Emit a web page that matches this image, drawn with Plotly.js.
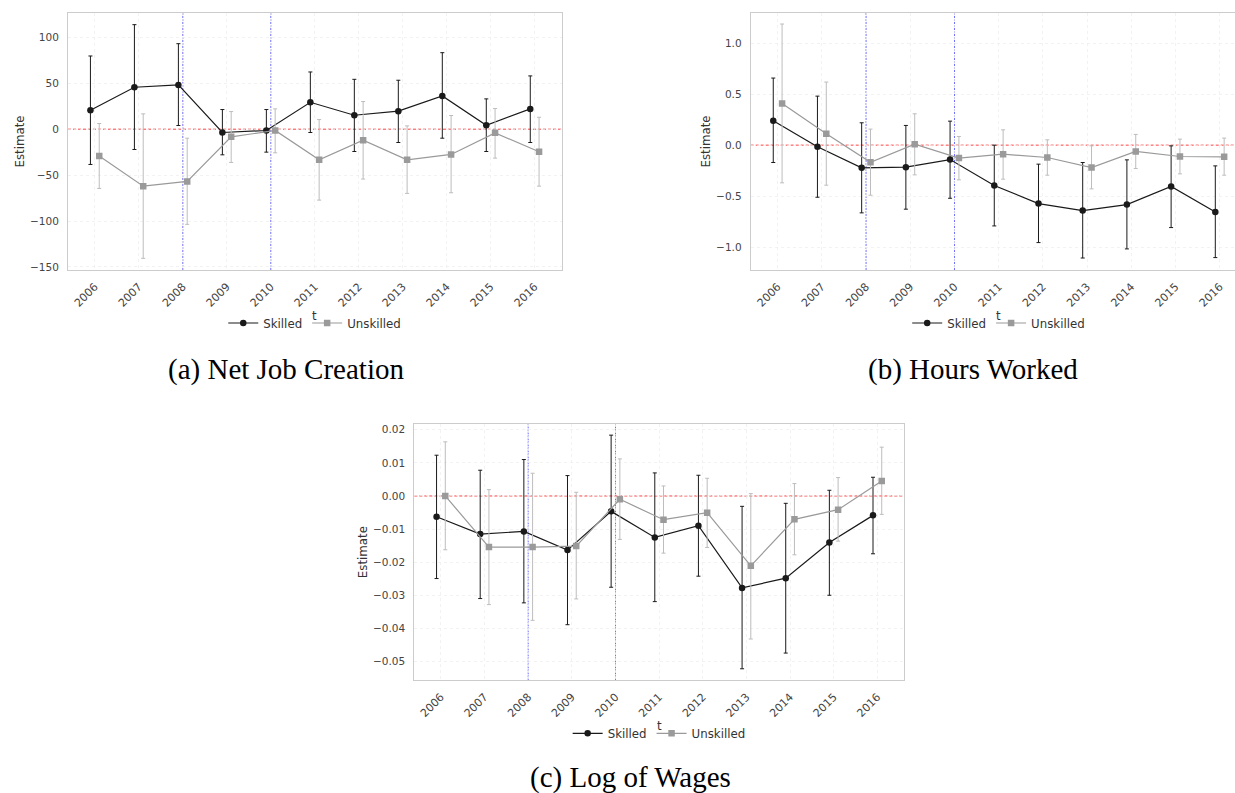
<!DOCTYPE html>
<html><head><meta charset="utf-8">
<script src="https://cdn.plot.ly/plotly-3.0.1.min.js"></script>
<style>html,body{margin:0;padding:0;overflow:hidden;background:#fff}</style>
</head><body><div id="chart"></div>
<script>
// ---------- data ----------
const years = [2006, 2007, 2008, 2009, 2010, 2011, 2012, 2013, 2014, 2015, 2016];
const yearLabels = ['2006','2007','2008','2009','2010','2011','2012','2013','2014','2015','2016'];
const seriesNames = ['Skilled', 'Unskilled'];
const panelCaptions = ['(a) Net Job Creation', '(b) Hours Worked', '(c) Log of Wages'];
const policyYears = [2008, 2010];

// y tick values / labels
const jobTicks = [-150, -100, -50, 0, 50, 100];
const jobTickLabels = ['\u2212150', '\u2212100', '\u221250', '0', '50', '100'];
const hoursTicks = [-1.0, -0.5, 0.0, 0.5, 1.0];
const hoursTickLabels = ['\u22121.0', '\u22120.5', '0.0', '0.5', '1.0'];
const wageTicks = [-0.05, -0.04, -0.03, -0.02, -0.01, 0.00, 0.01, 0.02];
const wageTickLabels = ['\u22120.05', '\u22120.04', '\u22120.03', '\u22120.02', '\u22120.01', '0.00', '0.01', '0.02'];

// (a) Net Job Creation
const jobSkilledEst = [20.7, 45.7, 48.2, -3.6, -1.4, 29.3, 15.2, 19.6, 36.2, 4.3, 22.1];
const jobSkilledLo  = [-38.4, -22.1, 4.0, -27.9, -25.0, -3.6, -24.3, -14.5, -9.8, -24.3, -14.5];
const jobSkilledHi  = [79.7, 113.8, 93.1, 21.4, 21.4, 62.3, 54.3, 53.3, 83.3, 33.0, 58.0];
const jobUnskilledEst = [-29.3, -62.0, -56.9, -8.3, -1.4, -33.3, -12.0, -33.3, -27.5, -4.0, -24.6];
const jobUnskilledLo  = [-64.5, -140.6, -103.6, -36.2, -25.7, -77.2, -54.3, -69.9, -69.2, -31.5, -62.0];
const jobUnskilledHi  = [6.2, 16.7, -9.8, 19.2, 22.1, 10.5, 30.1, 3.6, 14.9, 22.5, 13.0];

// (b) Hours Worked
const hoursSkilledEst = [0.239, -0.016, -0.222, -0.216, -0.141, -0.395, -0.572, -0.641, -0.582, -0.405, -0.654];
const hoursSkilledLo  = [-0.170, -0.510, -0.663, -0.627, -0.520, -0.791, -0.954, -1.105, -1.016, -0.807, -1.101];
const hoursSkilledHi  = [0.657, 0.480, 0.219, 0.193, 0.235, 0.000, -0.186, -0.170, -0.144, -0.007, -0.203];
const hoursUnskilledEst = [0.408, 0.111, -0.167, 0.010, -0.127, -0.088, -0.121, -0.219, -0.062, -0.111, -0.114];
const hoursUnskilledLo  = [-0.369, -0.392, -0.490, -0.291, -0.340, -0.333, -0.294, -0.428, -0.229, -0.281, -0.294];
const hoursUnskilledHi  = [1.186, 0.618, 0.157, 0.307, 0.085, 0.150, 0.052, -0.007, 0.105, 0.059, 0.069];

// (c) Log of Wages
const wageSkilledEst = [-0.00626, -0.01152, -0.01071, -0.01636, -0.00465, -0.01253, -0.00899, -0.02778, -0.02485, -0.01404, -0.00586];
const wageSkilledLo  = [-0.02495, -0.03100, -0.03230, -0.03890, -0.02758, -0.03192, -0.02424, -0.05222, -0.04747, -0.03000, -0.01747];
const wageSkilledHi  = [0.01232, 0.00778, 0.01101, 0.00616, 0.01838, 0.00697, 0.00626, -0.00313, -0.00222, 0.00172, 0.00566];
const wageUnskilledEst = [0.00000, -0.01545, -0.01545, -0.01515, -0.00101, -0.00717, -0.00505, -0.02111, -0.00707, -0.00414, 0.00455];
const wageUnskilledLo  = [-0.01626, -0.03283, -0.03758, -0.03111, -0.01313, -0.01727, -0.01556, -0.04323, -0.01778, -0.01364, -0.00556];
const wageUnskilledHi  = [0.01636, 0.00192, 0.00687, 0.00111, 0.01121, 0.00303, 0.00535, 0.00071, 0.00374, 0.00556, 0.01475];

// ---------- layout geometry (pixels) ----------
const W = 1250, H = 793;
const px = v => v / W, py = v => 1 - v / H;
const DODGE = 0.1;
const SK = '#1a1a1a', UN = '#9a9a9a', UN_ERR = '#bdbdbd';
const xTickFont = {family: 'DejaVu Sans', size: 11, color: '#444444'};
const yTickFont = {family: 'DejaVu Sans', size: 10.5, color: '#444444'};
const labFont = {family: 'DejaVu Sans', size: 11.8, color: '#333333'};

const panels = [
  {sfx: '',  lg: 'legend',  box: [68, 561.5, 13, 270],  yr: [-153.3, 126.5], tv: jobTicks, tt: jobTickLabels,
   cap: [286, 369.5], data: [jobSkilledEst, jobSkilledLo, jobSkilledHi, jobUnskilledEst, jobUnskilledLo, jobUnskilledHi]},
  {sfx: '2', lg: 'legend2', box: [750.7, 1246.7, 13, 270], yr: [-1.2225, 1.294], tv: hoursTicks, tt: hoursTickLabels,
   cap: [972.5, 369.5], data: [hoursSkilledEst, hoursSkilledLo, hoursSkilledHi, hoursUnskilledEst, hoursUnskilledLo, hoursUnskilledHi]},
  {sfx: '3', lg: 'legend3', box: [414.3, 904, 424, 680.3], yr: [-0.0557, 0.02175], tv: wageTicks, tt: wageTickLabels,
   cap: [630, 777], data: [wageSkilledEst, wageSkilledLo, wageSkilledHi, wageUnskilledEst, wageUnskilledLo, wageUnskilledHi]}
];

const traces = [];
const layout = {
  width: W, height: H, margin: {l: 0, r: 0, t: 0, b: 0},
  paper_bgcolor: '#ffffff', plot_bgcolor: '#ffffff',
  showlegend: true, shapes: [], annotations: []
};

panels.forEach((p, i) => {
  const [x0, x1, y0, y1] = p.box;
  const xa = 'x' + p.sfx, ya = 'y' + p.sfx;
  const [sE, sL, sH, uE, uL, uH] = p.data;
  traces.push({
    type: 'scatter', mode: 'lines+markers', name: seriesNames[0], legend: p.lg,
    x: years.map(v => v - DODGE), y: sE, xaxis: xa, yaxis: ya,
    line: {color: SK, width: 1.2}, marker: {symbol: 'circle', size: 6.5, color: SK},
    error_y: {type: 'data', symmetric: false, array: sH.map((h, k) => h - sE[k]),
              arrayminus: sE.map((e, k) => e - sL[k]), color: SK, thickness: 1, width: 2}
  });
  traces.push({
    type: 'scatter', mode: 'lines+markers', name: seriesNames[1], legend: p.lg,
    x: years.map(v => v + DODGE), y: uE, xaxis: xa, yaxis: ya,
    line: {color: UN, width: 1.2}, marker: {symbol: 'square', size: 6.5, color: UN},
    error_y: {type: 'data', symmetric: false, array: uH.map((h, k) => h - uE[k]),
              arrayminus: uE.map((e, k) => e - uL[k]), color: UN_ERR, thickness: 1, width: 2}
  });
  const common = {
    showgrid: true, gridcolor: '#ececec', griddash: '3px,3px', gridwidth: 0.7,
    showline: true, mirror: true, linecolor: '#cccccc', linewidth: 1,
    zeroline: false, ticks: '', fixedrange: true
  };
  layout['xaxis' + p.sfx] = Object.assign({}, common, {
    domain: [px(x0), px(x1)], anchor: ya, range: [2005.39, 2016.61],
    tickmode: 'array', tickvals: years, ticktext: yearLabels, tickangle: -45,
    tickfont: xTickFont, ticklabelstandoff: 5
  });
  layout['yaxis' + p.sfx] = Object.assign({}, common, {
    domain: [py(y1), py(y0)], anchor: xa, range: p.yr,
    tickmode: 'array', tickvals: p.tv, ticktext: p.tt,
    tickfont: yTickFont, ticklabelstandoff: 6,
    title: {text: 'Estimate', font: labFont, standoff: 2}
  });
  // reference lines
  layout.shapes.push({type: 'line', xref: xa + ' domain', yref: ya, x0: 0, x1: 1, y0: 0, y1: 0,
    line: {color: 'rgba(255,30,30,0.85)', width: 1, dash: '3px,2px'}, layer: 'below'});
  policyYears.forEach(yv => layout.shapes.push({type: 'line', xref: xa, yref: ya + ' domain',
    x0: yv, x1: yv, y0: 0, y1: 1, line: {color: '#7070ff', width: 1, dash: '2px,1px'}, layer: 'below'}));
  // legend
  const lgY = y1 + 53;
  layout[p.lg] = {orientation: 'h', x: px((x0 + x1) / 2), xanchor: 'center', y: py(lgY), yanchor: 'middle',
    font: labFont, bgcolor: 'rgba(0,0,0,0)', itemwidth: 30, traceorder: 'normal'};
  // x axis title "t"
  layout.annotations.push({text: 't', xref: 'paper', yref: 'paper', x: px((x0 + x1) / 2), y: py(y1 + 46),
    xanchor: 'center', yanchor: 'middle', showarrow: false, font: labFont});
  // caption
  layout.annotations.push({text: panelCaptions[i], xref: 'paper', yref: 'paper', x: px(p.cap[0]), y: py(p.cap[1]),
    xanchor: 'center', yanchor: 'middle', showarrow: false,
    font: {family: 'Liberation Serif', size: 29, color: '#000000'}});
});

Plotly.newPlot('chart', traces, layout, {displayModeBar: false, staticPlot: true});
</script>
</body></html>
